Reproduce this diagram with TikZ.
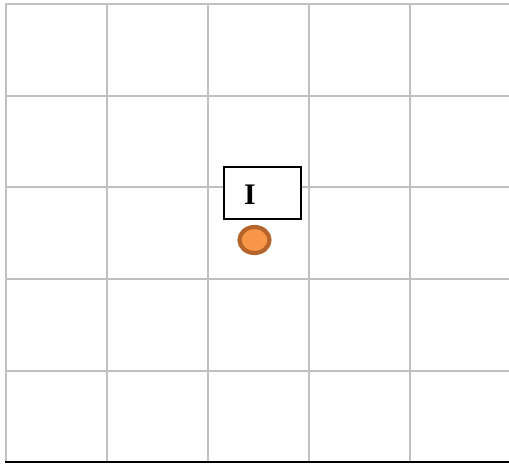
\documentclass[tikz,border=0pt]{standalone}
\usepackage{fontspec}
\setmainfont{Liberation Serif}
\usepackage{tikz}
\usetikzlibrary{calc,positioning,shapes.geometric}
\definecolor{grid-gray}{HTML}{C0C0C0}
\definecolor{dot-fill}{HTML}{F79646}
\definecolor{dot-edge}{HTML}{B5652B}

\begin{document}
\begin{tikzpicture}[x=0.02cm, y=-0.02cm,
    gridline/.style={line width=1.1pt, grid-gray},
    labelbox/.style={draw, line width=1pt, fill=white, minimum width=1.54cm, minimum height=1.04cm,
      text width=0.74cm, align=left, text height=13.4pt, text depth=0pt,
      font=\fontsize{17}{20}\selectfont\bfseries, inner sep=0pt},
    dot/.style={ellipse, draw=dot-edge, fill=dot-fill, line width=2.4pt, minimum width=0.6cm, minimum height=0.52cm, inner sep=0pt}]
    \useasboundingbox (0,0) rectangle (509,464);
    % grid
    \foreach \gx in {6,107,208,309,410}
        \draw[gridline] (\gx,4) -- (\gx,462);
    \foreach \gy in {4,96,187,279,371}
        \draw[gridline] (5,\gy) -- (509,\gy);
    \draw[line width=1.6pt, black] (5,462) -- (509,462);
    % box and dot
    \node[labelbox] (ibox) at (262.5,193) {I};
    \node[dot] (idot) at (254.5,240) {};
\end{tikzpicture}
\end{document}
